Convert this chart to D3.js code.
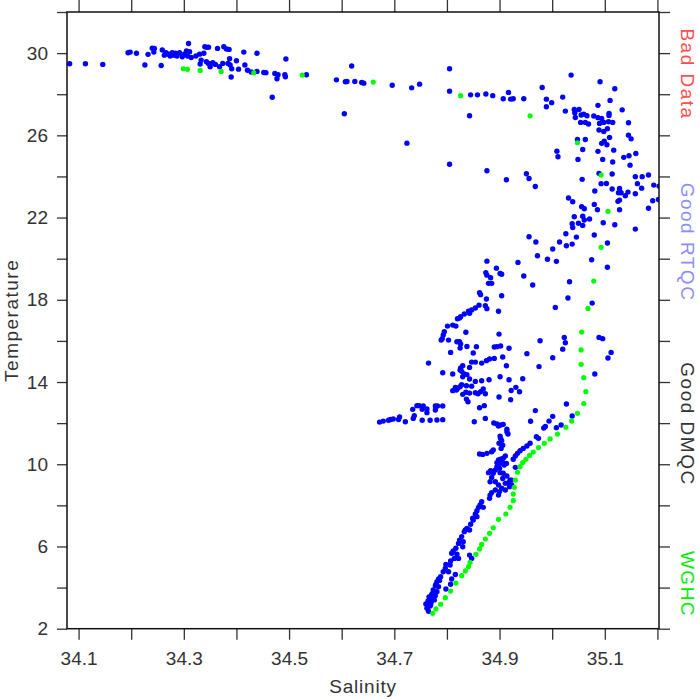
<!DOCTYPE html>
<html><head><meta charset="utf-8">
<script src="https://cdn.jsdelivr.net/npm/d3@7"></script>
<style>
body{margin:0;background:#fff}
svg{display:block}
text{font-family:"Liberation Sans",Arial,sans-serif;fill:#333}
</style>
</head><body>
<svg id="chart" width="700" height="700"></svg>
<script>
// ---------- data ----------
const blueSal = [
34.083,34.113,34.146,34.194,34.198,34.210,34.226,34.232,34.240,34.244,34.243,34.257,34.259,34.263,34.266,34.271,34.274,34.278,34.281,34.284,
34.287,34.292,34.297,34.301,34.305,34.309,34.307,34.311,34.314,34.323,34.330,34.333,34.331,34.338,34.340,34.344,34.347,34.343,34.347,34.350,
34.355,34.360,34.364,34.368,34.374,34.376,34.381,34.386,34.387,34.384,34.388,34.391,34.390,34.400,34.404,34.414,34.416,34.421,34.428,34.439,
34.439,34.452,34.456,34.468,34.473,34.477,34.479,34.492,34.493,34.494,34.533,34.590,34.607,34.610,34.619,34.625,34.638,34.642,34.605,
// upper right
34.805,34.696,34.733,34.748,34.805,34.845,34.858,34.874,34.887,34.907,34.917,34.921,34.926,34.946,34.843,34.724,34.805,34.876,34.913,34.951,
34.956,34.968,34.981,34.989,34.989,34.999,35.020,35.036,35.025,35.042,35.043,35.051,35.044,35.055,35.060,35.066,35.054,35.063,35.069,35.079,
35.087,35.091,35.087,35.094,35.108,35.108,35.110,35.119,35.090,35.098,35.107,35.115,35.089,35.098,35.105,35.109,35.133,35.145,35.145,35.150,
35.063,35.048,35.094,35.099,35.104,35.117,35.058,35.087,35.096,35.115,35.136,35.146,35.159,35.148,35.009,35.011,35.049,35.057,35.081,35.089,
35.093,35.103,35.114,35.114,35.128,35.126,35.131,35.125,35.128,35.139,35.144,35.128,35.119,35.158,35.171,35.183,35.162,35.170,35.158,35.193,
35.203,35.191,35.202,35.183,35.158,35.031,35.039,35.056,35.061,35.042,35.058,35.061,35.071,35.080,35.086,35.097,35.050,35.038,35.039,35.058,
35.080,35.026,35.046,35.014,35.027,35.038,35.001,34.956,34.969,35.105,
// middle
34.972,34.991,35.008,35.075,35.105,34.876,34.935,34.894,34.901,34.904,34.874,34.876,34.883,34.879,34.885,34.946,34.963,35.033,34.862,34.864,
34.875,34.904,35.030,35.076,35.006,34.861,34.854,34.847,34.841,34.873,34.876,34.898,34.843,34.833,34.826,34.820,34.824,34.811,34.817,34.801,
34.795,34.793,34.791,34.789,34.803,34.836,34.899,34.819,34.824,34.826,34.825,34.838,34.856,34.890,34.895,34.902,34.918,34.977,35.023,35.025,
35.020,35.089,35.096,35.112,35.106,34.807,34.850,34.952,35.001,34.906,34.765,34.847,34.854,34.866,34.875,34.881,34.890,34.830,34.826,34.843,
34.913,34.975,34.792,34.811,34.825,34.828,34.833,34.838,34.830,34.843,34.854,34.866,34.880,34.901,34.918,34.944,35.081,34.931,34.938,34.922,
34.828,34.825,34.820,34.818,34.811,34.816,34.837,34.847,34.843,34.830,34.836,34.854,34.859,34.869,34.873,34.864,34.899,34.837,34.840,34.921,
34.862,34.871,35.027,34.968,34.743,34.747,34.755,34.735,34.753,34.762,34.762,34.778,34.782,34.792,34.778,34.738,34.736,34.753,34.768,34.781,
34.792,34.721,34.710,34.708,34.698,34.693,34.689,34.679,34.672,34.852,34.873,34.889,34.895,34.902,34.907,34.898,34.914,34.959,34.984,34.987,
34.994,35.001,35.008,35.017,35.038,
// lower
34.914,34.916,34.901,34.902,34.904,34.899,34.906,34.903,34.888,34.885,34.876,34.868,34.862,34.970,34.974,34.958,34.952,34.945,34.939,34.934,
34.930,34.926,34.911,34.907,34.902,34.898,34.895,34.901,34.906,34.909,34.913,34.895,34.900,34.892,34.883,34.879,34.888,34.901,34.907,34.930,
34.914,34.906,34.920,34.917,34.923,34.911,34.885,34.882,34.892,34.898,34.892,34.885,34.882,34.900,34.898,34.904,34.911,34.919,34.923,34.881,
34.866,34.863,34.860,34.869,34.857,34.854,34.849,
34.857,34.850,34.845,34.838,34.833,34.835,34.843,34.828,34.824,34.822,34.831,34.830,34.817,34.812,34.809,34.819,34.814,34.822,34.807,34.843,
34.847,34.806,34.798,34.797,34.803,34.793,34.816,34.788,34.784,34.809,34.807,34.781,34.778,34.784,34.774,34.781,34.798,34.771,34.778,34.773,
34.770,34.776,34.762,34.765,34.768,34.760,34.766,34.772,34.779,34.786,34.764,34.769
];
const blueTemp = [
29.48,29.48,29.45,30.02,30.05,29.99,29.42,29.94,30.24,30.23,30.05,29.40,30.15,29.90,30.02,29.95,29.86,30.02,29.90,29.99,
29.86,30.02,29.82,29.95,30.11,30.47,29.86,30.07,29.79,29.86,29.95,29.66,29.47,29.99,30.31,30.28,30.29,29.58,29.50,29.34,
29.53,29.45,30.23,29.34,29.50,30.31,30.20,30.18,29.73,29.50,29.42,29.24,28.84,29.63,29.22,30.05,29.42,29.17,29.08,29.99,
29.11,29.06,29.05,27.85,29.01,28.75,28.95,28.95,28.85,29.71,28.95,28.70,28.61,28.62,29.37,28.62,28.57,28.54,27.05,
// upper right
29.24,28.44,28.31,28.49,28.15,27.97,27.97,28.01,27.93,27.78,28.09,27.76,27.78,27.78,26.95,25.62,24.59,24.28,23.84,24.13,
23.90,23.51,28.33,27.76,27.39,27.59,27.86,28.93,27.18,27.26,27.10,27.26,26.87,26.99,27.03,26.95,26.63,26.63,26.55,26.94,
27.46,28.61,26.86,26.82,27.07,26.97,27.70,28.27,26.58,26.63,26.66,26.63,26.26,26.19,26.32,25.90,27.24,26.61,26.01,25.83,
25.80,25.80,25.61,25.72,25.54,25.28,25.31,25.22,24.83,24.70,24.93,25.01,25.12,24.55,25.23,24.96,24.83,23.86,23.29,24.15,
23.65,23.66,23.39,24.12,23.42,23.21,23.21,22.79,22.85,23.06,23.24,22.38,21.65,23.99,23.99,24.07,23.65,23.43,23.16,23.58,
23.53,22.82,22.88,22.45,21.44,22.95,22.77,22.53,22.43,22.04,22.07,21.88,21.93,22.64,22.38,21.75,21.72,21.70,21.52,21.62,
21.15,21.21,21.05,20.81,20.63,20.71,20.47,21.07,20.81,20.76,
// middle
20.14,19.97,19.87,19.95,19.58,19.88,19.82,19.54,19.28,19.24,19.32,19.20,19.07,18.80,18.80,19.16,18.72,18.88,18.34,18.25,
18.04,18.20,18.09,17.84,17.63,17.74,17.60,17.50,17.45,17.71,17.57,17.44,17.34,17.31,17.18,17.08,17.11,16.77,16.72,16.72,
16.45,16.29,16.11,16.04,16.04,16.42,16.33,15.96,15.96,15.85,15.65,15.73,15.72,15.70,15.72,15.75,15.64,16.01,16.17,15.91,
15.60,16.17,16.11,15.44,15.17,15.44,15.41,15.38,15.18,15.22,14.92,14.97,14.97,14.92,15.04,15.12,15.15,14.79,14.68,14.71,
14.79,14.75,14.45,14.39,14.58,14.52,14.39,14.36,14.26,14.15,14.03,14.06,14.11,14.26,14.11,14.16,14.39,13.74,13.53,13.59,
13.87,13.77,13.69,13.61,13.58,13.74,13.82,13.80,13.46,13.40,13.50,13.48,13.43,13.66,13.43,13.53,13.27,13.17,13.04,13.14,
12.75,12.85,12.93,12.61,12.85,12.85,12.83,12.67,12.67,12.69,12.51,12.83,12.83,12.83,12.64,12.36,12.23,12.14,12.14,12.15,
12.17,12.07,12.30,12.18,12.20,12.18,12.14,12.10,12.05,12.07,12.23,12.01,11.96,11.91,11.94,11.86,11.70,12.09,11.76,11.84,
12.10,12.33,11.78,11.91,12.35,
// lower
11.58,11.47,11.37,11.26,11.15,11.02,10.93,10.77,10.69,10.61,10.53,10.48,10.50,11.34,11.26,11.02,10.89,10.77,10.66,10.53,
10.40,10.24,10.40,10.29,10.24,10.21,10.08,10.04,10.08,9.96,10.04,9.88,9.80,9.72,9.69,9.59,9.56,9.59,9.56,9.85,
9.43,9.31,9.23,9.10,9.23,9.07,9.36,9.15,9.15,8.99,8.75,8.62,8.50,8.67,8.50,8.83,8.75,8.91,8.99,8.34,
8.18,8.02,7.90,7.90,7.74,7.58,7.37,
7.45,7.29,7.08,6.88,6.72,6.80,6.80,6.48,6.31,6.15,6.23,5.99,5.91,5.78,5.67,5.62,5.42,5.42,5.29,5.58,
5.42,5.10,5.13,4.94,4.77,4.77,4.64,4.53,4.42,4.42,4.16,4.29,4.09,4.04,3.88,3.80,3.93,3.64,3.61,3.44,
3.28,3.40,3.00,2.85,3.10,3.20,3.55,3.70,4.15,4.35,3.35,3.15
];
const greenSal = [
34.299,34.307,34.331,34.371,34.433,34.525,34.660,
34.826,34.958,35.048,35.093,35.106,35.093,
35.079,35.068,35.056,35.055,35.055,35.060,35.064,35.060,35.048,35.037,35.026,
35.010,34.996,34.985,34.974,34.964,34.957,34.950,34.944,34.939,34.934,34.930,34.928,34.926,34.926,34.920,34.912,34.898,
34.888,34.881,34.873,34.866,34.862,34.855,34.844,34.841,34.835,34.828,34.817,34.807,34.797,34.788,34.779,34.773
];
const greenTemp = [
29.24,29.21,29.16,29.11,29.04,28.93,28.59,
27.93,26.95,25.64,24.07,22.30,20.55,
18.91,17.58,16.43,15.56,14.86,14.21,13.53,12.95,12.48,12.10,11.80,
11.47,11.23,11.02,10.81,10.59,10.43,10.24,10.08,9.88,9.61,9.23,8.88,8.55,8.23,7.90,7.58,7.32,
6.91,6.64,6.36,6.10,5.88,5.62,5.23,5.02,4.81,4.58,4.22,3.83,3.51,3.19,2.96,2.75
];
const xTickValues = [34.1,34.2,34.3,34.4,34.5,34.6,34.7,34.8,34.9,35.0,35.1,35.2];
const xTickLabels = ["34.1","","34.3","","34.5","","34.7","","34.9","","35.1",""];
const yTickValues = [2,4,6,8,10,12,14,16,18,20,22,24,26,28,30,32];
const yTickLabels = ["2","","6","","10","","14","","18","","22","","26","","30",""];
const sideLabels = ["Bad Data","Good RTQC","Good DMQC","WGHC"];
const sideColors = ["#ff4d4d","#8c8cff","#333333","#00ee00"];
const xTitle = "Salinity", yTitle = "Temperature";

// ---------- drawing ----------
const svg = d3.select("#chart");
const L = 67, R = 659, T = 12, B = 628.7;
const x = d3.scaleLinear().domain([34.078, 35.203]).range([L, R]);
const y = d3.scaleLinear().domain([2, 32]).range([B, T]);

const fs = 19;
function styleAxis(g){
  g.select(".domain").remove();
  g.selectAll(".tick line").attr("stroke","#333").attr("stroke-width",1.3);
  g.selectAll(".tick text").attr("font-size",fs).attr("fill","#333")
   .attr("font-family",'"Liberation Sans",Arial,sans-serif');
}
svg.append("g").attr("transform",`translate(0,${B})`)
  .call(d3.axisBottom(x).tickValues(xTickValues).tickSize(11).tickPadding(12)
    .tickFormat((d,i)=>xTickLabels[i])).call(styleAxis);
svg.append("g").attr("transform",`translate(0,${T})`)
  .call(d3.axisTop(x).tickValues(xTickValues).tickSize(12).tickFormat(()=>"")).call(styleAxis);
svg.append("g").attr("transform",`translate(${L},0)`)
  .call(d3.axisLeft(y).tickValues(yTickValues).tickSize(10).tickPadding(9)
    .tickFormat((d,i)=>yTickLabels[i])).call(styleAxis);
svg.append("g").attr("transform",`translate(${R},0)`)
  .call(d3.axisRight(y).tickValues(yTickValues).tickSize(11).tickFormat(()=>"")).call(styleAxis);

svg.append("defs").append("clipPath").attr("id","clip")
  .append("rect").attr("x",L).attr("y",T).attr("width",R-L).attr("height",B-T);

const pts = svg.append("g").attr("clip-path","url(#clip)");
const blue = blueSal.map((s,i)=>({s, t: blueTemp[i]}));
const green = greenSal.map((s,i)=>({s, t: greenTemp[i]}));
pts.selectAll("circle.b").data(blue).join("circle").attr("class","b")
  .attr("cx",d=>x(d.s)).attr("cy",d=>y(d.t)).attr("r",2.7).attr("fill","#0000ff");
pts.selectAll("circle.g").data(green).join("circle").attr("class","g")
  .attr("cx",d=>x(d.s)).attr("cy",d=>y(d.t)).attr("r",2.6).attr("fill","#00ff00");

svg.append("rect").attr("x",L).attr("y",T).attr("width",R-L).attr("height",B-T)
  .attr("fill","none").attr("stroke","#111").attr("stroke-width",1.5);

svg.append("text").attr("x",(L+R)/2).attr("y",693).attr("text-anchor","middle")
  .attr("font-size",fs).attr("letter-spacing",0.8).text(xTitle);
svg.append("text").attr("transform",`translate(18,${(T+B)/2}) rotate(-90)`)
  .attr("text-anchor","middle").attr("font-size",fs).attr("letter-spacing",1.5).text(yTitle);

const sideY = [74, 242, 424, 584];
sideLabels.forEach((lab,i)=>{
  svg.append("text").attr("transform",`translate(681,${sideY[i]}) rotate(90)`)
    .attr("text-anchor","middle").attr("font-size",fs).attr("letter-spacing",1.5)
    .style("fill",sideColors[i]).text(lab);
});
</script>
</body></html>
